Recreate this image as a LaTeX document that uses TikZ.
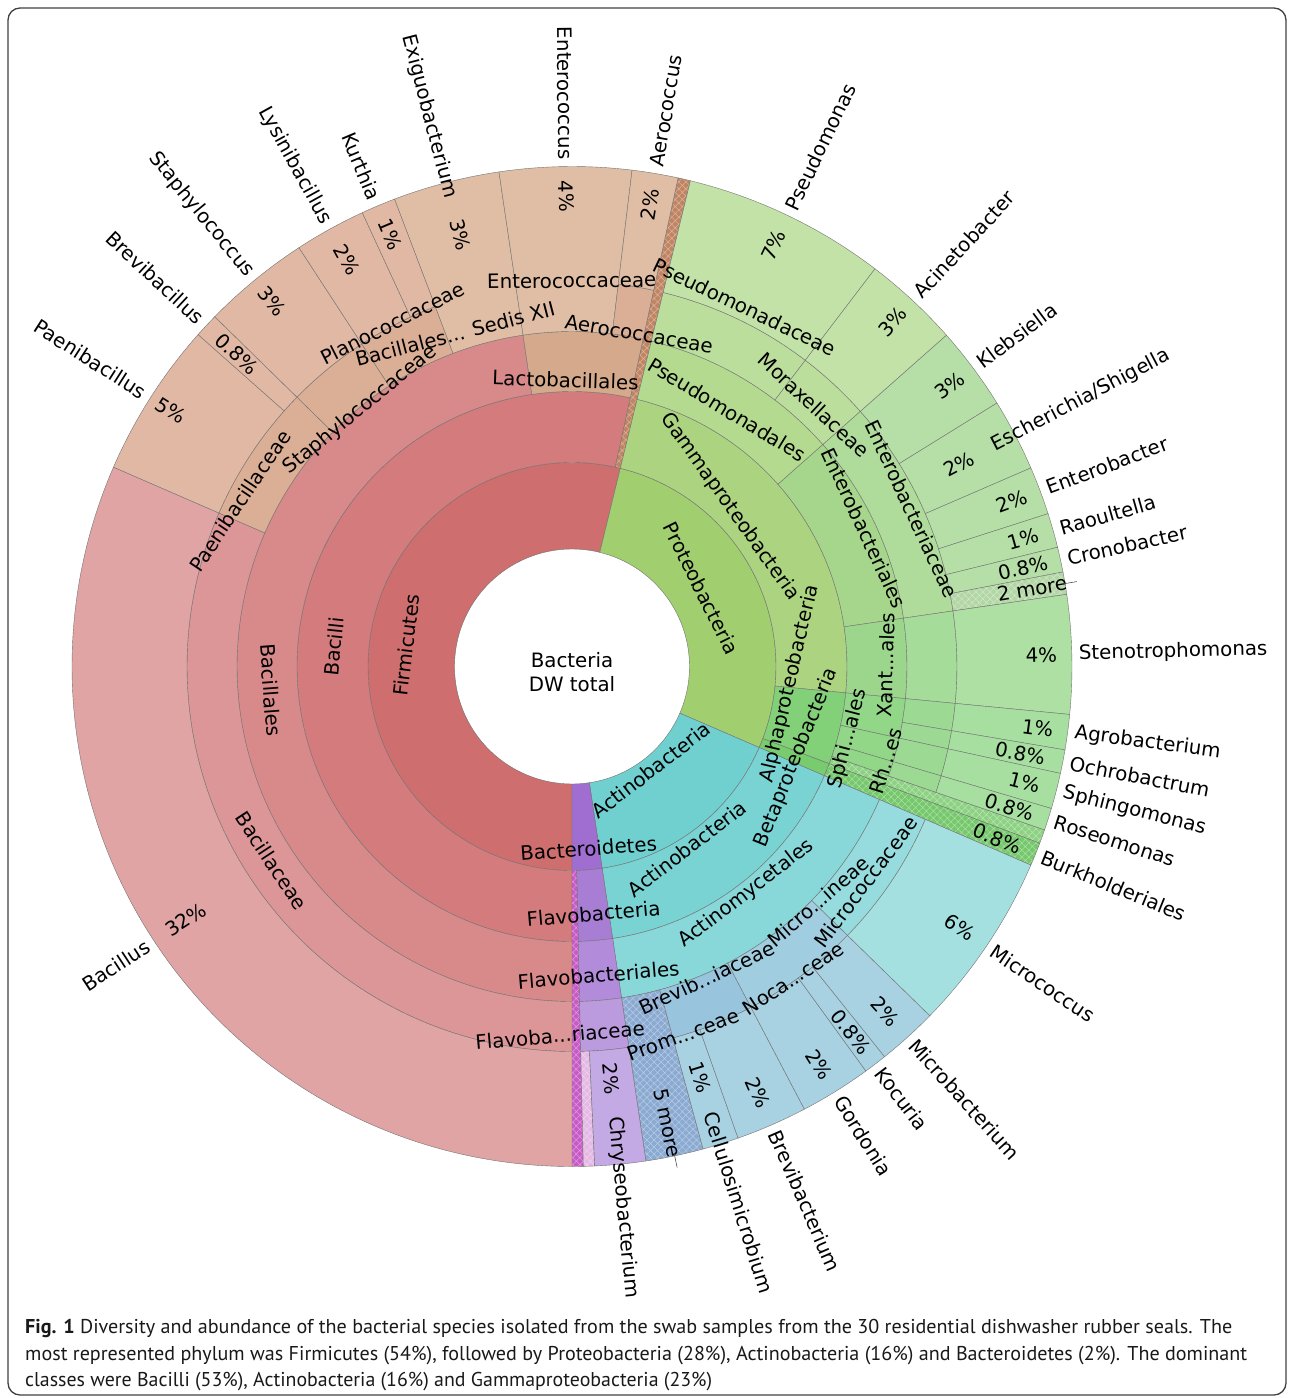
\documentclass[tikz,border=0pt]{standalone}
\usepackage{fontspec}
\usepackage{graphicx}
\setmainfont{DejaVu Sans}
\newfontfamily\capfont{PT Sans}
\usetikzlibrary{patterns.meta}

\definecolor{firmA}{RGB}{206,110,110}
\definecolor{firmB}{RGB}{212,123,125}
\definecolor{firmC}{RGB}{216,137,138}
\definecolor{firmD}{RGB}{220,150,151}
\definecolor{firmE}{RGB}{224,164,165}
\definecolor{firmH}{RGB}{192,132,98}
\definecolor{lactC}{RGB}{213,170,140}
\definecolor{tanD}{RGB}{219,174,150}
\definecolor{tanE}{RGB}{225,184,164}
\definecolor{tanF}{RGB}{224,190,165}
\definecolor{protA}{RGB}{161,207,112}
\definecolor{gamB}{RGB}{172,212,128}
\definecolor{pseC}{RGB}{180,218,144}
\definecolor{pseD}{RGB}{188,222,157}
\definecolor{pseE}{RGB}{195,226,167}
\definecolor{entC}{RGB}{166,214,140}
\definecolor{entD}{RGB}{175,220,155}
\definecolor{entE}{RGB}{181,223,166}
\definecolor{entH}{RGB}{178,215,165}
\definecolor{xanC}{RGB}{156,214,140}
\definecolor{xanD}{RGB}{166,220,154}
\definecolor{xanE}{RGB}{174,224,163}
\definecolor{alpB}{RGB}{130,208,120}
\definecolor{alpC}{RGB}{146,214,136}
\definecolor{alpD}{RGB}{156,218,148}
\definecolor{alpE}{RGB}{166,223,160}
\definecolor{alpH}{RGB}{140,210,130}
\definecolor{betB}{RGB}{120,204,110}
\definecolor{betH}{RGB}{118,200,108}
\definecolor{actA}{RGB}{112,207,207}
\definecolor{actB}{RGB}{122,211,211}
\definecolor{actC}{RGB}{136,215,217}
\definecolor{micD}{RGB}{150,219,221}
\definecolor{micE}{RGB}{165,224,225}
\definecolor{bluD}{RGB}{152,197,221}
\definecolor{bluE}{RGB}{160,206,224}
\definecolor{bluF}{RGB}{168,209,226}
\definecolor{bluH}{RGB}{138,170,210}
\definecolor{bactA}{RGB}{160,110,208}
\definecolor{bactB}{RGB}{168,126,213}
\definecolor{bactC}{RGB}{178,140,218}
\definecolor{bactD}{RGB}{187,155,222}
\definecolor{bactE}{RGB}{196,170,228}
\definecolor{bactH}{RGB}{200,90,200}
\definecolor{bactHH}{RGB}{228,185,228}

\tikzset{
  part/.style={draw=black!55, line width=0.4pt},
  lbl/.style={font=\fontsize{19.8}{24}\selectfont, inner sep=0pt},
  tick/.style={draw=black!70, line width=0.6pt},
}

\newcommand\partpath[4]{(#1:#3pt) arc[start angle=#1, end angle=#2, radius=#3pt] -- (#2:#4pt) arc[start angle=#2, end angle=#1, radius=#4pt] -- cycle}
\newcommand\ringpart[5]{\filldraw[part, fill=#5] \partpath{#1}{#2}{#3}{#4};}
\newcommand\hatchpart[5]{\fill[#5] \partpath{#1}{#2}{#3}{#4};
  \fill[pattern={Hatch[angle=45, distance=5pt, line width=0.5pt]}, pattern color=white!40!#5] \partpath{#1}{#2}{#3}{#4};
  \draw[part] \partpath{#1}{#2}{#3}{#4};}

\begin{document}
\begin{tikzpicture}[x=1pt, y=1pt]
\useasboundingbox (0,0) rectangle (1292,-1398);
\draw[rounded corners=12pt, line width=1.3pt, black!75] (8,-8) rectangle (1286,-1395);

\begin{scope}[shift={(572,-666.5)}]
\ringpart{76.3}{270}{117.5}{204}{firmA}
\ringpart{-23.4}{76.3}{117.5}{204}{protA}
\ringpart{-81.5}{-23.4}{117.5}{204}{actA}
\ringpart{-90}{-81.5}{117.5}{204}{bactA}

\ringpart{77.75}{270}{204}{275}{firmB}
\hatchpart{76.3}{77.75}{204}{500}{firmH}
\ringpart{-5.5}{76.3}{204}{275}{gamB}
\ringpart{-20.7}{-5.5}{204}{275}{alpB}
\ringpart{-23.4}{-20.7}{204}{275}{betB}
\ringpart{-81.5}{-23.4}{204}{275}{actB}
\ringpart{-88.7}{-81.5}{204}{275}{bactB}
\hatchpart{-90}{-88.7}{204}{500}{bactH}

\ringpart{98.4}{270}{275}{335}{firmC}
\ringpart{77.75}{98.4}{275}{335}{lactC}
\ringpart{41.5}{76.3}{275}{335}{pseC}
\ringpart{8.3}{41.5}{275}{335}{entC}
\ringpart{-5.5}{8.3}{275}{335}{xanC}
\ringpart{-12.35}{-5.5}{275}{335}{alpC}
\ringpart{-16.5}{-12.35}{275}{335}{alpC}
\ringpart{-19.07}{-16.5}{275}{335}{alpC}
\hatchpart{-20.7}{-19.07}{275}{500}{alpH}
\hatchpart{-23.4}{-20.7}{275}{500}{betH}
\ringpart{-81.5}{-23.4}{275}{335}{actC}
\ringpart{-88.7}{-81.5}{275}{335}{bactC}

\ringpart{156.5}{270}{335}{385}{firmD}
\ringpart{135.6}{156.5}{335}{385}{tanD}
\ringpart{123.1}{135.6}{335}{385}{tanD}
\ringpart{110.8}{123.1}{335}{385}{tanD}
\ringpart{98.4}{110.8}{335}{500}{tanF}
\ringpart{83.1}{98.4}{335}{500}{tanF}
\ringpart{77.75}{83.1}{335}{385}{tanD}
\ringpart{52.7}{76.3}{335}{385}{pseD}
\ringpart{41.5}{52.7}{335}{385}{pseD}
\ringpart{8.3}{41.5}{335}{385}{entD}
\ringpart{-5.5}{8.3}{335}{385}{xanD}
\ringpart{-9.6}{-5.5}{335}{385}{alpD}
\ringpart{-12.35}{-9.6}{335}{385}{alpD}
\ringpart{-16.5}{-12.35}{335}{385}{alpD}
\ringpart{-19.07}{-16.5}{335}{385}{alpD}
\hatchpart{-81.5}{-74.8}{335}{500}{bluH}
\ringpart{-74.8}{-62.3}{335}{385}{bluD}
\ringpart{-62.3}{-44.3}{335}{385}{bluE}
\ringpart{-44.3}{-23.4}{335}{385}{micD}
\ringpart{-88.7}{-81.5}{335}{385}{bactD}

\ringpart{156.5}{270}{385}{500}{firmE}
\ringpart{138.4}{156.5}{385}{500}{tanE}
\ringpart{135.6}{138.4}{385}{500}{tanE}
\ringpart{123.1}{135.6}{385}{500}{tanE}
\ringpart{114.8}{123.1}{385}{500}{tanE}
\ringpart{110.8}{114.8}{385}{500}{tanE}
\ringpart{77.75}{83.1}{385}{500}{tanF}
\ringpart{52.7}{76.3}{385}{500}{pseE}
\ringpart{41.5}{52.7}{385}{500}{pseE}
\ringpart{31.8}{41.5}{385}{500}{entE}
\ringpart{23.4}{31.8}{385}{500}{entE}
\ringpart{17.8}{23.4}{385}{500}{entE}
\ringpart{13.8}{17.8}{385}{500}{entE}
\ringpart{10.9}{13.8}{385}{500}{entE}
\hatchpart{8.3}{10.9}{385}{500}{entH}
\ringpart{-5.5}{8.3}{385}{500}{xanE}
\ringpart{-9.6}{-5.5}{385}{500}{alpE}
\ringpart{-12.35}{-9.6}{385}{500}{alpE}
\ringpart{-16.5}{-12.35}{385}{500}{alpE}
\ringpart{-19.07}{-16.5}{385}{500}{alpE}
\ringpart{-74.8}{-70.6}{385}{500}{bluF}
\ringpart{-70.6}{-62.3}{385}{500}{bluF}
\ringpart{-62.3}{-54}{385}{500}{bluF}
\ringpart{-54}{-51.3}{385}{500}{bluF}
\ringpart{-51.3}{-44.3}{385}{500}{bluF}
\ringpart{-44.3}{-23.4}{385}{500}{micE}
\hatchpart{-88.7}{-87.4}{385}{500}{bactHH}
\ringpart{-87.4}{-81.5}{385}{500}{bactE}

\node[lbl, rotate=33.25, anchor=east] (bacillusN) at (213.25:507pt) {Bacillus};
\node[lbl, rotate=-32.55, anchor=east] (paenibacillusN) at (147.45:507pt) {Paenibacillus};
\node[lbl, rotate=-43, anchor=east] (brevibacillusN) at (137:507pt) {Brevibacillus};
\node[lbl, rotate=-50.65, anchor=east] (staphylococcusN) at (129.35:507pt) {Staphylococcus};
\node[lbl, rotate=-61.05, anchor=east] (lysinibacillusN) at (118.95:507pt) {Lysinibacillus};
\node[lbl, rotate=-67.2, anchor=east] (kurthiaN) at (112.8:507pt) {Kurthia};
\node[lbl, rotate=-75.45, anchor=east] (exiguoN) at (104.55:484pt) {Exiguobacterium};
\node[lbl, rotate=-89.3, anchor=east] (enterococcusN) at (90.7:507pt) {Enterococcus};
\node[lbl, rotate=80.4, anchor=west] (aerococcusN) at (80.4:507pt) {Aerococcus};
\node[lbl, rotate=64.45, anchor=west] (pseudomonasN) at (64.45:507pt) {Pseudomonas};
\node[lbl, rotate=47.1, anchor=west] (acinetoN) at (47.1:507pt) {Acinetobacter};
\node[lbl, rotate=36.65, anchor=west] (klebsiellaN) at (36.65:507pt) {Klebsiella};
\node[lbl, rotate=27.6, anchor=west] (escherichiaN) at (27.6:475pt) {Escherichia/Shigella};
\node[lbl, rotate=20.6, anchor=west] (enterobacterN) at (20.6:507pt) {Enterobacter};
\node[lbl, rotate=15.8, anchor=west] (raoultellaN) at (15.8:507pt) {Raoultella};
\node[lbl, rotate=12.35, anchor=west] (cronobacterN) at (12.35:507pt) {Cronobacter};
\node[lbl, rotate=1.4, anchor=west] (stenoN) at (1.4:507pt) {Stenotrophomonas};
\node[lbl, rotate=-7.55, anchor=west] (agroN) at (-7.55:507pt) {Agrobacterium};
\node[lbl, rotate=-10.97, anchor=west] (ochroN) at (-10.97:507pt) {Ochrobactrum};
\node[lbl, rotate=-14.4, anchor=west] (sphingoN) at (-14.4:507pt) {Sphingomonas};
\node[lbl, rotate=-17.8, anchor=west] (roseoN) at (-17.8:507pt) {Roseomonas};
\node[lbl, rotate=-22.05, anchor=west] (burkN) at (-22.05:507pt) {Burkholderiales};
\node[lbl, rotate=-33.95, anchor=west] (micrococcusN) at (-33.95:507pt) {Micrococcus};
\node[lbl, rotate=-47.8, anchor=west] (microbactN) at (-47.8:507pt) {Microbacterium};
\node[lbl, rotate=-52.65, anchor=west] (kocuriaN) at (-52.65:507pt) {Kocuria};
\node[lbl, rotate=-58.15, anchor=west] (gordoniaN) at (-58.15:507pt) {Gordonia};
\node[lbl, rotate=-66.45, anchor=west] (brevibactN) at (-66.45:507pt) {Brevibacterium};
\node[lbl, rotate=-72.7, anchor=west] (celluloN) at (-72.7:467pt) {Cellulosimicrobium};
\node[lbl, rotate=-84.6, anchor=west] (chryseoN) at (-84.6:452pt) {Chryseobacterium};

\node[lbl, rotate=33.25] (bacillusP) at (213.25:462pt) {32\%};
\node[lbl, rotate=-32.55] (paenibacillusP) at (147.45:475.8pt) {5\%};
\node[lbl, rotate=-43] (brevibacillusP) at (137:458.3pt) {0.8\%};
\node[lbl, rotate=-50.65] (staphylococcusP) at (129.35:472.8pt) {3\%};
\node[lbl, rotate=-61.05] (lysinibacillusP) at (118.95:465.2pt) {2\%};
\node[lbl, rotate=-67.2] (kurthiaP) at (112.8:468.7pt) {1\%};
\node[lbl, rotate=-75.45] (exiguoP) at (104.55:445.8pt) {3\%};
\node[lbl, rotate=-89.3] (enterococcusP) at (90.7:470pt) {4\%};
\node[lbl, rotate=80.4] (aerococcusP) at (80.4:468.6pt) {2\%};
\node[lbl, rotate=64.45] (pseudomonasP) at (64.45:467pt) {7\%};
\node[lbl, rotate=47.1] (acinetoP) at (47.1:470.8pt) {3\%};
\node[lbl, rotate=36.65] (klebsiellaP) at (36.65:470.6pt) {3\%};
\node[lbl, rotate=27.6] (escherichiaP) at (27.6:436.4pt) {2\%};
\node[lbl, rotate=20.6] (enterobacterP) at (20.6:469.6pt) {2\%};
\node[lbl, rotate=15.8] (raoultellaP) at (15.8:468.6pt) {1\%};
\node[lbl, rotate=12.35] (cronobacterP) at (12.35:461.6pt) {0.8\%};
\node[lbl, rotate=9.6] (twomore) at (9.6:466.6pt) {2 more};
\node[lbl, rotate=1.4] (stenoP) at (1.4:469.5pt) {4\%};
\node[lbl, rotate=-7.55] (agroP) at (-7.55:469.8pt) {1\%};
\node[lbl, rotate=-10.97] (ochroP) at (-10.97:456.5pt) {0.8\%};
\node[lbl, rotate=-14.4] (sphingoP) at (-14.4:467pt) {1\%};
\node[lbl, rotate=-17.8] (roseoP) at (-17.8:460pt) {0.8\%};
\node[lbl, rotate=-22.05] (burkP) at (-22.05:458.7pt) {0.8\%};
\node[lbl, rotate=-33.95] (micrococcusP) at (-33.95:467.4pt) {6\%};
\node[lbl, rotate=-47.8] (microbactP) at (-47.8:466.1pt) {2\%};
\node[lbl, rotate=-52.65] (kocuriaP) at (-52.65:459.8pt) {0.8\%};
\node[lbl, rotate=-58.15] (gordoniaP) at (-58.15:468.8pt) {2\%};
\node[lbl, rotate=-66.45] (brevibactP) at (-66.45:465.2pt) {2\%};
\node[lbl, rotate=-72.7] (celluloP) at (-72.7:429.9pt) {1\%};
\node[lbl, rotate=-78.15] (fivemore) at (-78.15:466.5pt) {5 more};
\node[lbl, rotate=-84.6] (chryseoP) at (-84.6:414pt) {2\%};

\coordinate (twoA) at (9.55:497pt);
\coordinate (twoB) at (9.55:512pt);
\coordinate (fiveA) at (-78.15:497pt);
\coordinate (fiveB) at (-78.15:512pt);
\draw[tick] (twoA) -- (twoB);
\draw[tick] (fiveA) -- (fiveB);
\end{scope}

\node[lbl, align=center] (root) at (572,-672) {Bacteria\\DW total};

\node[lbl, rotate=83.15] (firmT) at (406.5,-645) {Firmicutes};
\node[lbl, rotate=-63.55] (protT) at (701.5,-588.5) {Proteobacteria};
\node[lbl, rotate=37.55] (actT) at (651,-770) {Actinobacteria};
\node[lbl, rotate=4.25] (bactT) at (588.5,-848.5) {Bacteroidetes};
\node[lbl, rotate=83.9] (bacilliT) at (334,-646.5) {Bacilli};
\node[lbl, rotate=-54.65] (gammaT) at (730,-506.7) {Gammaproteobacteria};
\node[lbl, rotate=76.9] (alphaT) at (790,-684) {Alphaproteobacteria};
\node[lbl, rotate=67.95] (betaT) at (796.5,-757.5) {Betaproteobacteria};
\node[lbl, rotate=37.55] (actcT) at (687,-848.5) {Actinobacteria};
\node[lbl, rotate=4.9] (flavoT) at (593.5,-913.5) {Flavobacteria};
\node[lbl, rotate=-85.8] (bacillalesT) at (270.8,-690) {Bacillales};
\node[lbl, rotate=-1.9] (lactoT) at (565.5,-380) {Lactobacillales};
\node[lbl, rotate=-31.15] (pseudoT) at (727,-409.5) {Pseudomonadales};
\node[lbl, rotate=-65.1] (enteroT) at (864,-528) {Enterobacteriales};
\node[lbl, rotate=88] (xantT) at (886,-665) {Xant...ales};
\node[lbl, rotate=75.6] (sphiT) at (848,-738.5) {Sphi...ales};
\node[lbl, rotate=72.2] (rhT) at (885.5,-761) {Rh...es};
\node[lbl, rotate=37.55] (actinoT) at (746.5,-893.5) {Actinomycetales};
\node[lbl, rotate=4.9] (flavoalesT) at (598.5,-975) {Flavobacteriales};
\node[lbl, rotate=-56.75] (bacillaceaeT) at (271.7,-860.8) {Bacillaceae};
\node[lbl, rotate=56.05] (paeniT) at (240,-501) {Paenibacillaceae};
\node[lbl, rotate=39.35] (staphT) at (360,-410) {Staphylococcaceae};
\node[lbl, rotate=26.95] (planoT) at (392.5,-323.3) {Planococcaceae};
\node[lbl, rotate=14.55] (sedisT) at (455,-334) {Bacillales... Sedis XII};
\node[lbl, rotate=0.7] (enterococcT) at (571.7,-280.8) {Enterococcaceae};
\node[lbl, rotate=-9.6] (aerococcT) at (639,-334) {Aerococcaceae};
\node[lbl, rotate=-25.55] (pseudaceaeT) at (745,-307) {Pseudomonadaceae};
\node[lbl, rotate=-42.9] (moraxT) at (814,-405) {Moraxellaceae};
\node[lbl, rotate=-65.1] (enterobactT) at (911.7,-509) {Enterobacteriaceae};
\node[lbl, rotate=4.9] (flavoaceaeT) at (560,-1035) {Flavoba...riaceae};
\node[lbl, rotate=25] (brevibT) at (707,-978) {Brevib...iaceae};
\node[lbl, rotate=41] (microinT) at (818.3,-901.7) {Micro...ineae};
\node[lbl, rotate=53] (micrococcT) at (865.8,-881.7) {Micrococcaceae};
\node[lbl, rotate=33.3] (nocaT) at (793.3,-978.3) {Noca...ceae};
\node[lbl, rotate=20] (promT) at (683.3,-1035) {Prom...ceae};

\node[anchor=base west, inner sep=0pt, text=black!90] (capA) at (25,-1333) {\resizebox{1207pt}{\height}{\capfont\fontsize{20}{24}\selectfont\textbf{Fig. 1} Diversity and abundance of the bacterial species isolated from the swab samples from the 30 residential dishwasher rubber seals. The}};
\node[anchor=base west, inner sep=0pt, text=black!90] (capB) at (25,-1360) {\resizebox{1222pt}{\height}{\capfont\fontsize{20}{24}\selectfont most represented phylum was Firmicutes (54\%), followed by Proteobacteria (28\%), Actinobacteria (16\%) and Bacteroidetes (2\%). The dominant}};
\node[anchor=base west, inner sep=0pt, text=black!90] (capC) at (25,-1386) {\resizebox{687pt}{\height}{\capfont\fontsize{20}{24}\selectfont classes were Bacilli (53\%), Actinobacteria (16\%) and Gammaproteobacteria (23\%)}};
\end{tikzpicture}
\end{document}
